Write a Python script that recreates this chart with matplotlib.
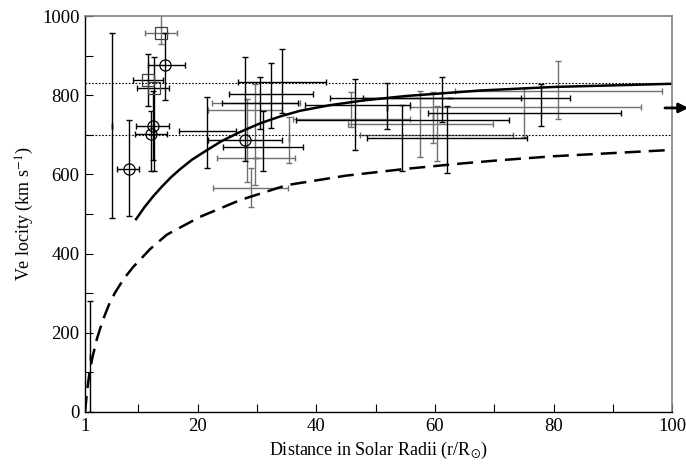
import matplotlib
matplotlib.use('Agg')
import matplotlib.pyplot as plt
import numpy as np

plt.rcParams['font.family'] = ['Liberation Serif', 'DejaVu Serif']
plt.rcParams['mathtext.fontset'] = 'stix'

# model curves
solid_x = [9.6, 11, 12.5, 14, 15.5, 17, 19, 21.4, 24, 27.1, 30.5, 34, 37.3, 42.3, 48, 55, 67.6, 80, 100]
solid_v = [487, 517, 545, 570, 593, 613, 637, 660, 684, 707, 729, 747, 761, 775, 787, 798, 812, 821, 829]
dash_x = [1, 1.3, 1.7, 2.2, 3.0, 4.0, 5.0, 6.0, 7.5, 9.1, 12, 14.8, 20.4, 27.1, 35, 45, 55, 64.7, 71, 80, 90, 100]
dash_v = [0, 48, 95, 135, 185, 232, 270, 300, 336, 366, 412, 448, 493, 535, 573, 597, 614, 628, 636, 646, 654, 662]
levels = [830, 700]

# black error bars: x, v, x range, v range
bx = [1.8, 5.5, 8.4, 14.5, 11.6, 12.6, 12.5, 12.2, 21.5, 28.0, 34.2, 32.3, 30.5, 31.0, 46.5, 51.9, 61.1, 54.5, 62.0, 77.8, 62.5]
bv = [140, 723, 614, 876, 838, 818, 722, 701, 710, 687, 834, 803, 780, 670, 775, 768, 792, 737, 692, 755, 792]
bx_lo = [1.8, 5.5, 6.4, 11.6, 9.1, 9.8, 9.6, 9.4, 16.9, 21.7, 26.8, 25.3, 24.1, 24.3, 38.1, 51.9, 47.9, 36.5, 48.5, 58.8, 42.3]
bx_hi = [1.8, 5.5, 10.1, 17.9, 14.2, 15.2, 15.2, 14.8, 26.5, 34.2, 41.6, 39.4, 36.9, 37.8, 55.8, 51.9, 74.5, 72.5, 75.5, 91.4, 82.8]
bv_lo = [0, 490, 495, 788, 773, 609, 636, 609, 616, 634, 755, 717, 714, 609, 662, 714, 733, 609, 604, 723, 792]
bv_hi = [281, 957, 737, 957, 904, 897, 810, 760, 796, 897, 917, 882, 847, 760, 841, 832, 847, 775, 773, 828, 792]

# grey error bars
gx = [13.8, 28.3, 29.7, 29.8, 35.4, 29.0, 45.8, 80.7, 75.0, 57.5, 60.3, 59.7]
gv = [957, 763, 780, 642, 690, 565, 740, 811, 770, 727, 699, 745]
gx_lo = [11.1, 21.7, 22.4, 23.3, 35.4, 22.6, 36.1, 63.4, 55.8, 45.4, 47.4, 59.7]
gx_hi = [16.5, 34.2, 37.2, 36.4, 35.4, 35.2, 55.8, 98.3, 94.8, 69.8, 73.2, 59.7]
gv_lo = [930, 581, 573, 642, 630, 518, 720, 740, 694, 645, 634, 679]
gv_hi = [1060, 790, 828, 642, 746, 617, 809, 886, 818, 811, 773, 809]

# marked points
circ_x = [8.4, 14.5, 12.5, 12.2, 28.0]
circ_v = [614, 876, 722, 701, 687]
sq_x = [13.8, 11.6, 12.6]
sq_v = [957, 838, 818]

fig = plt.figure(figsize=(6.86, 4.73), dpi=100)
ax = fig.add_axes([0.124, 0.129, 0.856, 0.837])

def bars(xs, vs, xlo, xhi, vlo, vhi, col):
    xs = np.array(xs); vs = np.array(vs)
    xe = [xs - np.array(xlo), np.array(xhi) - xs]
    ve = [vs - np.array(vlo), np.array(vhi) - vs]
    ax.errorbar(xs, vs, xerr=xe, yerr=ve, fmt='none', ecolor=col,
                elinewidth=1.0, capsize=2.5, capthick=1.0)

bars(gx, gv, gx_lo, gx_hi, gv_lo, gv_hi, '#707070')
bars(bx, bv, bx_lo, bx_hi, bv_lo, bv_hi, 'black')

ax.plot(circ_x, circ_v, 'o', ms=8, mfc='none', mec='black', mew=0.9)
ax.plot(sq_x, sq_v, 's', ms=8.5, mfc='none', mec='#404040', mew=0.9)

for lv in levels:
    ax.axhline(lv, color='black', lw=0.8, ls=(0, (1.5, 1.5)))

ax.plot(solid_x, solid_v, color='black', lw=1.8)
ax.plot(dash_x, dash_v, color='black', lw=1.8, dashes=(6.4, 3.2))

ax.annotate('', xy=(103.2, 768), xytext=(98.3, 768), xycoords='data',
            arrowprops=dict(arrowstyle='-|>', color='black', lw=2,
                            mutation_scale=14), annotation_clip=False)

ax.set_xlim(1, 100)
ax.set_ylim(0, 1000)
ax.set_xticks([1, 20, 40, 60, 80, 100])
ax.set_xticks([10, 30, 50, 70, 90], minor=True)
ax.set_yticks(range(0, 1001, 200))
ax.set_yticks(range(100, 1000, 200), minor=True)
ax.tick_params(which='both', direction='in', length=6, width=0.8, labelsize=13.5, pad=4)
ax.tick_params(top=False, right=False)
for s in ['top', 'right']:
    ax.spines[s].set_color('#808080')
    ax.spines[s].set_linewidth(1.2)
for s in ['left', 'bottom']:
    ax.spines[s].set_linewidth(1.0)

ax.set_xlabel(r'Distance in Solar Radii (r/R$_{\odot}$)', fontsize=13)
ax.set_ylabel(r'Ve locity (km s$^{-1}$)', fontsize=13)

fig.savefig('out.png', dpi=100)
